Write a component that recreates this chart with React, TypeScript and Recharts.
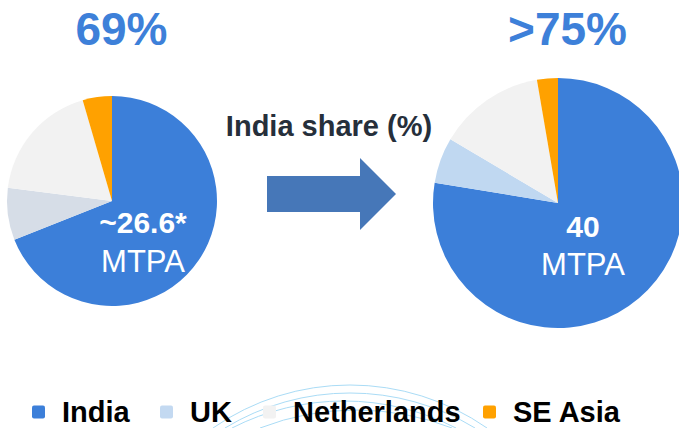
import React from "react";
import { Cell, Pie, PieChart } from "recharts";

// share of supply by origin (%)
const categories = ["India", "UK", "Netherlands", "SE Asia"];
const currentShare = [69, 8, 18.5, 4.5];
const futureShare = [77.6, 5.9, 13.8, 2.7];

const headlineLeft = "69%";
const headlineRight = ">75%";
const volumeLeft = "~26.6*";
const volumeRight = "40";
const unit = "MTPA";
const arrowCaption = "India share (%)";

const COLORS_LEFT = ["#3c7fd9", "#d6dde7", "#f2f2f2", "#ffa100"];
const COLORS_RIGHT = ["#3c7fd9", "#c0d8f1", "#f2f2f2", "#ffa100"];
const LEGEND_COLORS = ["#3c7fd9", "#c3d9f1", "#f2f2f2", "#ffa100"];
const LEGEND_X = [32, 160, 263, 483];

const FONT = "'Liberation Sans', Arial, Helvetica, sans-serif";
const W = 679;
const H = 428;

const leftData = categories.map((name, i) => ({ name, value: currentShare[i] }));
const rightData = categories.map((name, i) => ({ name, value: futureShare[i] }));

// faint decorative arcs behind the legend
const arcs = [
  { cx: 350, top: 385, half: 137 },
  { cx: 350, top: 393, half: 125 },
  { cx: 344, top: 401, half: 112 },
  { cx: 356, top: 410, half: 96 },
];

function Backdrop() {
  return (
    <svg width={W} height={H} style={{ position: "absolute", left: 0, top: 0 }}>
      {arcs.map((a, i) => {
        const d = H - a.top;
        const r = (a.half * a.half + d * d) / (2 * d);
        return (
          <path
            key={i}
            d={`M ${a.cx - a.half} ${H} A ${r} ${r} 0 0 1 ${a.cx + a.half} ${H}`}
            fill="none"
            stroke="#aadcf6"
            strokeWidth={1}
          />
        );
      })}
      <polygon
        points="267,176 360,176 360,158 396,194 360,230 360,212 267,212"
        fill="#4677b8"
      />
    </svg>
  );
}

function Overlay() {
  return (
    <svg
      width={W}
      height={H}
      style={{ position: "absolute", left: 0, top: 0, pointerEvents: "none" }}
      fontFamily={FONT}
    >
      <text x={121.5} y={45} textAnchor="middle" fontSize={46} fontWeight="bold" fill="#3d80d9">
        {headlineLeft}
      </text>
      <text x={567.5} y={45} textAnchor="middle" fontSize={46} fontWeight="bold" fill="#3d80d9">
        {headlineRight}
      </text>
      <text x={329} y={136} textAnchor="middle" fontSize={29} fontWeight="bold" fill="#262f3b">
        {arrowCaption}
      </text>

      <text x={143} y={233} textAnchor="middle" fontSize={30} fontWeight="bold" fill="#fff">
        {volumeLeft}
      </text>
      <text x={143} y={272} textAnchor="middle" fontSize={31} fill="#fff">
        {unit}
      </text>
      <text x={583} y={237} textAnchor="middle" fontSize={30} fontWeight="bold" fill="#fff">
        {volumeRight}
      </text>
      <text x={583} y={275} textAnchor="middle" fontSize={31} fill="#fff">
        {unit}
      </text>

      {categories.map((c, i) => (
        <g key={c}>
          <rect x={LEGEND_X[i]} y={405.5} width={13} height={13} rx={2} fill={LEGEND_COLORS[i]} />
          <text x={LEGEND_X[i] + 30} y={422} fontSize={29} fontWeight="bold" fill="#000">
            {c}
          </text>
        </g>
      ))}
    </svg>
  );
}

export default function App() {
  return (
    <div
      style={{
        position: "absolute",
        left: 0,
        top: 0,
        width: W,
        height: H,
        background: "#fff",
        overflow: "hidden",
      }}
    >
      <Backdrop />
      <div style={{ position: "absolute", left: 0, top: 0 }}>
        <PieChart width={W} height={H} margin={{ top: 0, right: 0, bottom: 0, left: 0 }}>
          <Pie
            data={leftData}
            dataKey="value"
            nameKey="name"
            cx={112}
            cy={201}
            outerRadius={105}
            startAngle={90}
            endAngle={-270}
            stroke="none"
            isAnimationActive={false}
          >
            {leftData.map((d, i) => (
              <Cell key={d.name} fill={COLORS_LEFT[i]} />
            ))}
          </Pie>
          <Pie
            data={rightData}
            dataKey="value"
            nameKey="name"
            cx={558}
            cy={203}
            outerRadius={125}
            startAngle={90}
            endAngle={-270}
            stroke="none"
            isAnimationActive={false}
          >
            {rightData.map((d, i) => (
              <Cell key={d.name} fill={COLORS_RIGHT[i]} />
            ))}
          </Pie>
        </PieChart>
      </div>
      <Overlay />
    </div>
  );
}
